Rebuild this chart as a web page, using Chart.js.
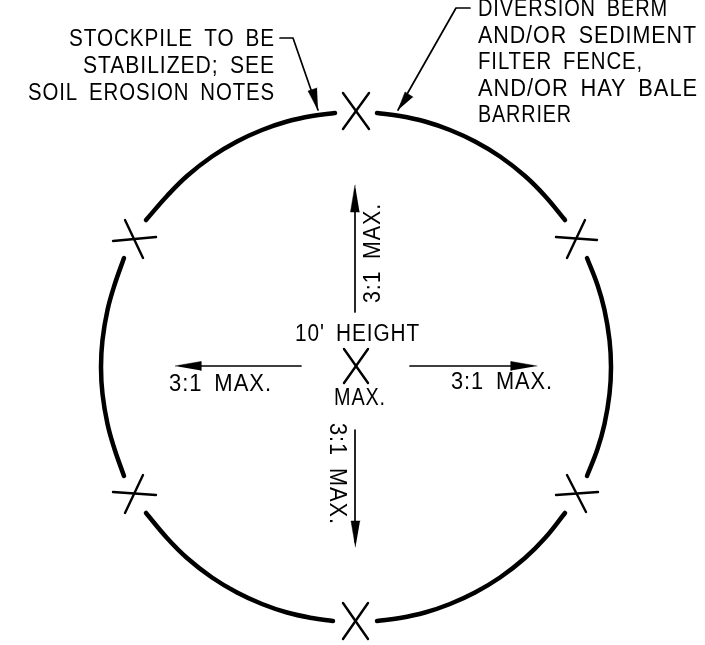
<!DOCTYPE html>
<html>
<head>
<meta charset="utf-8">
<title>Stockpile detail</title>
<script src="https://cdn.jsdelivr.net/npm/chart.js@4"></script>
<style>
    html, body { margin: 0; padding: 0; background: #fff; overflow: hidden; }
    canvas { display: block; }
</style>
</head>
<body>
<canvas id="detail" width="705" height="645"></canvas>
<script>
// Drawing, values are in sheet units (0-705 across, 0-645 down)

// Berm segments around the pile
const arcTopRight = [[377, 113], [400, 116], [425, 121.5], [450, 130], [475, 141.5], [500, 156.5], [525, 176], [545, 196], [565, 220]];
const arcRight = [[587, 258], [597.5, 285], [604.5, 310], [609.5, 340], [611, 367], [609.5, 394], [604.5, 424], [597.5, 449], [587, 476]];
const arcBottomRight = [[565, 513], [545, 538], [525, 558], [500, 577.5], [475, 592.5], [450, 604], [425, 612.5], [400, 618], [377, 621]];
const arcBottomLeft = [[333, 621], [312, 618], [287, 612.5], [262, 604], [237, 592.5], [212, 577.5], [187, 558], [167, 538], [146, 513]];
const arcLeft = [[124, 476], [114.5, 449], [107.5, 424], [102.5, 394], [101, 367], [102.5, 340], [107.5, 310], [114.5, 285], [124, 258]];
const arcTopLeft = [[146, 220], [167, 196], [187, 176], [212, 156.5], [237, 141.5], [262, 130], [287, 121.5], [312, 116], [335, 113]];

// Hay bale / stake crosses, one stroke per list
const crossStrokes = [
    [[343, 93], [369, 129]], [[369, 93], [343, 129]],
    [[343, 603], [368, 639]], [[368, 603], [343, 639]],
    [[344, 349], [368, 383]], [[368, 349], [344, 383]],
    [[113, 241], [156, 237]], [[125, 220], [143, 258]],
    [[556, 237], [597, 240]], [[585, 220], [567, 258]],
    [[113, 492], [156, 495]], [[143, 475], [125, 513]],
    [[556, 495], [598, 492]], [[567, 475], [586, 512]]
];

// Leaders and slope arrows
const thinLines = [
    [[280, 38], [293, 38], [318, 110]],
    [[470, 8], [456, 8], [398, 110]],
    [[355, 312], [355, 190]],
    [[355, 430], [355, 542]],
    [[301, 366], [180, 366]],
    [[410, 366], [532, 366]]
];
const arrowHeads = [
    [[318, 110], [308, 91], [317, 88]],
    [[398, 110], [405, 92], [413, 97]],
    [[355, 185], [350.5, 212], [359.5, 212]],
    [[355.5, 547], [351, 521], [360, 521]],
    [[175, 366], [201, 361.5], [201, 370.5]],
    [[537, 366], [511, 361.5], [511, 370.5]]
];

// Notes
const noteTexts = [
    'STOCKPILE TO BE', 'STABILIZED; SEE', 'SOIL EROSION NOTES',
    'DIVERSION BERM', 'AND/OR SEDIMENT', 'FILTER FENCE,', 'AND/OR HAY BALE', 'BARRIER',
    "10' HEIGHT", 'MAX.', '3:1 MAX.', '3:1 MAX.', '3:1 MAX.', '3:1 MAX.'
];
const noteX = [275, 275, 275, 478, 478, 478, 478, 478, 295, 334, 169, 451, 372, 338];
const noteY = [38, 65, 92, 8, 35, 61, 88, 114, 333, 397, 383, 381, 303, 423];
const noteWidth = [206, 192, 247, 190, 219, 165, 220, 94, 125, 52, 103, 102, 100, 102];
const noteAlign = ['right', 'right', 'right', 'left', 'left', 'left', 'left', 'left', 'left', 'left', 'left', 'left', 'left', 'left'];
const noteTurn = [0, 0, 0, 0, 0, 0, 0, 0, 0, 0, 0, 0, -90, 90];

const toPoints = list => list.map(([x, y]) => ({ x, y }));

const lineSet = (list, width) => ({
    data: toPoints(list),
    borderColor: '#000',
    borderWidth: width,
    borderCapStyle: 'round',
    borderJoinStyle: 'round',
    pointRadius: 0,
    showLine: true,
    fill: false
});

const datasets = [];
[arcTopRight, arcRight, arcBottomRight, arcBottomLeft, arcLeft, arcTopLeft].forEach(arc => {
    datasets.push({ ...lineSet(arc, 4.5), tension: 0.4 });
});
crossStrokes.forEach(stroke => datasets.push(lineSet(stroke, 2.4)));
thinLines.forEach(line => datasets.push(lineSet(line, 1.7)));
arrowHeads.forEach(head => {
    datasets.push({ ...lineSet(head, 0.5), backgroundColor: '#000', fill: 'shape' });
});

// Draws the notes at their sheet positions through the chart scales
const notesPlugin = {
    id: 'notes',
    afterDatasetsDraw(chart) {
        const { ctx, scales } = chart;
        ctx.save();
        ctx.fillStyle = '#000';
        ctx.font = '23px "Liberation Sans"';
        ctx.letterSpacing = '1px';
        ctx.wordSpacing = '5px';
        ctx.textBaseline = 'middle';
        noteTexts.forEach((text, i) => {
            const fit = noteWidth[i] / ctx.measureText(text).width;
            ctx.save();
            ctx.translate(scales.x.getPixelForValue(noteX[i]), scales.y.getPixelForValue(noteY[i]));
            ctx.rotate(noteTurn[i] * Math.PI / 180);
            ctx.scale(fit, 1);
            ctx.textAlign = noteAlign[i];
            ctx.fillText(text, 0, 2);
            ctx.restore();
        });
        ctx.restore();
    }
};

new Chart(document.getElementById('detail').getContext('2d'), {
    type: 'scatter',
    data: { datasets },
    options: {
        responsive: false,
        animation: false,
        layout: { padding: 0 },
        clip: false,
        plugins: { legend: { display: false }, tooltip: { enabled: false } },
        scales: {
            x: { type: 'linear', min: 0, max: 705, display: false },
            y: { type: 'linear', min: 0, max: 645, reverse: true, display: false }
        }
    },
    plugins: [notesPlugin]
});
</script>
</body>
</html>
